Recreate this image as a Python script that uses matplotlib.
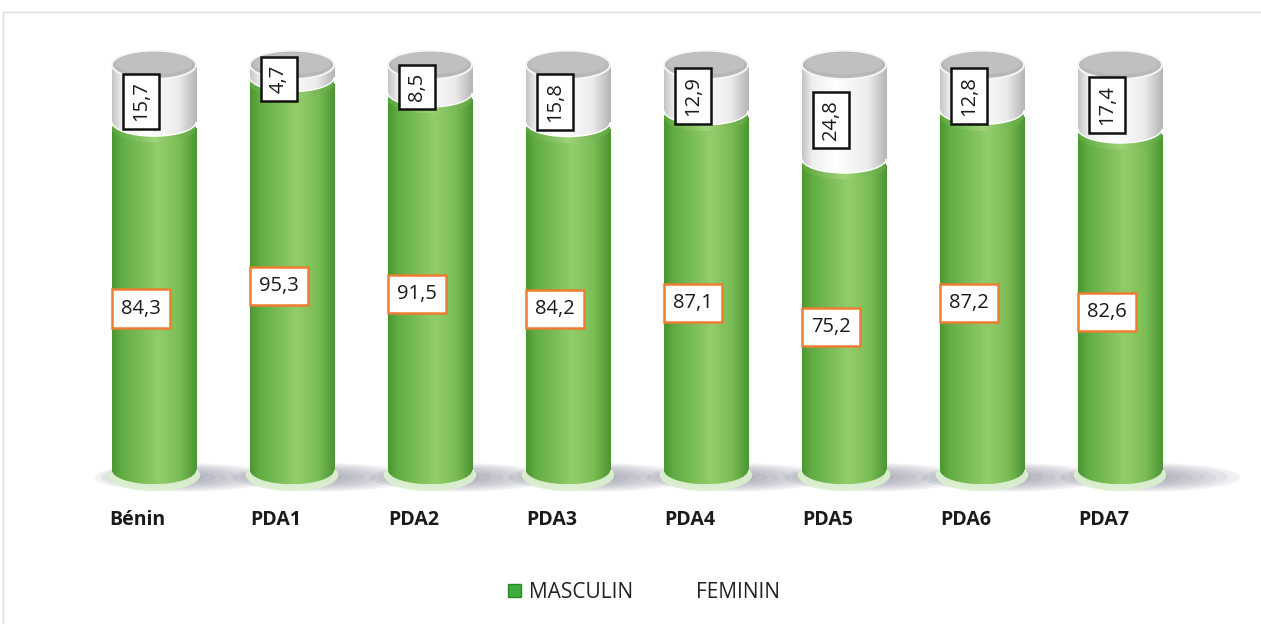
import numpy as np
import matplotlib
matplotlib.use("Agg")
import matplotlib.pyplot as plt
from matplotlib.patches import Ellipse, Arc, Patch
from matplotlib.colors import LinearSegmentedColormap

categories = ["Bénin", "PDA1", "PDA2", "PDA3", "PDA4", "PDA5", "PDA6", "PDA7"]
masculin = [84.3, 95.3, 91.5, 84.2, 87.1, 75.2, 87.2, 82.6]
feminin = [15.7, 4.7, 8.5, 15.8, 12.9, 24.8, 12.8, 17.4]

plt.rcParams['font.family'] = ['Open Sans', 'DejaVu Sans']

fig = plt.figure(figsize=(12.61, 6.24), dpi=100)
ax = fig.add_axes([0, 0, 1, 1])
ax.set_xlim(-154 / 138, (1261 - 154) / 138)
ax.set_ylim(-38.0, 116.0)
ax.axis('off')

green_cmap = LinearSegmentedColormap.from_list(
    "g", [(0, "#4a9632"), (0.12, "#62ad44"), (0.55, "#93cd6a"), (0.8, "#7bbd55"), (1, "#4b9433")])
greentop_cmap = LinearSegmentedColormap.from_list(
    "gt", [(0, "#5aa63d"), (0.5, "#9fd477"), (1, "#5ca53f")])
white_cmap = LinearSegmentedColormap.from_list(
    "w", [(0, "#c4c4c4"), (0.12, "#efefef"), (0.4, "#ffffff"), (0.78, "#ececec"), (1, "#b4b4b4")])
grad = np.linspace(0, 1, 256).reshape(1, -1)

W = 0.61
EH = 7.0

def grad_fill(patch, cmap, x0, x1, y0, y1, z):
    ax.add_patch(patch)
    im = ax.imshow(grad, cmap=cmap, extent=[x0, x1, y0, y1], aspect='auto',
                   zorder=z, interpolation='bicubic')
    im.set_clip_path(patch)

x = np.arange(len(categories))
for i, (m, f) in enumerate(zip(masculin, feminin)):
    xc = x[i]
    # shadow
    for k in range(8):
        s = 1 - k * 0.1
        ax.add_patch(Ellipse((xc + 0.22 - 0.02 * k, -1.8), 1.3 * s, 7.0 * s, color="#767690",
                             alpha=0.1, lw=0, zorder=1))
    ax.add_patch(Ellipse((xc, -1.2), W * 1.1, EH * 1.15, color="#dcf2cf", alpha=0.9, lw=0, zorder=1.5))
    # green body
    bars = ax.bar(xc, m, width=W, bottom=0, color="none", lw=0, zorder=2)
    for b in bars:
        grad_fill(b, green_cmap, xc - W / 2, xc + W / 2, 0, m, 2)
    e = Ellipse((xc, 0), W, EH, lw=0, fc="none")
    grad_fill(e, green_cmap, xc - W / 2, xc + W / 2, -EH / 2, EH / 2, 2)
    e = Ellipse((xc, m), W, EH, lw=0, fc="none")
    grad_fill(e, greentop_cmap, xc - W / 2, xc + W / 2, m - EH / 2, m + EH / 2, 2.1)
    # white cap
    gap = 1.6
    r = ax.bar(xc, 100 - (m + gap), width=W, bottom=m + gap, color="none", lw=0, zorder=3)
    for b in r:
        grad_fill(b, white_cmap, xc - W / 2, xc + W / 2, m + gap, 100, 3)
    e = Ellipse((xc, m + gap), W, EH, lw=0, fc="none")
    grad_fill(e, white_cmap, xc - W / 2, xc + W / 2, m + gap - EH / 2, m + gap + EH / 2, 3)
    ax.add_patch(Arc((xc, m + gap), W, EH, theta1=180, theta2=360, lw=1.0, ec="white", zorder=3.1))
    ax.add_patch(Ellipse((xc, 100), W, EH, lw=1.4, ec="#f6f6f6", fc="#b7b7b7", zorder=3.2))
    ax.add_patch(Ellipse((xc, 100.4), W * 0.92, EH * 0.78, lw=0, fc="#c0c0c0", zorder=3.3))
    # labels
    ax.text(xc - 0.095, m / 2 - 2.3, f"{m:.1f}".replace(".", ","), ha="center", va="center",
            fontsize=14.5, color="#1a1a1a", zorder=5,
            bbox=dict(boxstyle="square,pad=0.45", fc="white", ec="#ed7d31", lw=1.8))
    ax.text(xc - 0.095, m + f / 2 - 1.2, f"{f:.1f}".replace(".", ","), ha="center", va="center",
            rotation=90, fontsize=14.5, color="#1a1a1a", zorder=5,
            bbox=dict(boxstyle="square,pad=0.4", fc="white", ec="#111111", lw=1.8))
    ax.text(xc - 0.12, -12.4, categories[i], ha="center", va="center", fontsize=14,
            fontweight="bold", color="#1a1a1a")

# chart border
xl = 3 / 138 - 154 / 138
ax.plot([xl, xl], [-38, (470 - 12) / 4.05], color="#dcdcdc", lw=1)
ax.plot([xl, 8.1], [(470 - 12) / 4.05, (470 - 12) / 4.05], color="#dcdcdc", lw=1)

handles = [Patch(facecolor="#3cae3c", edgecolor="#2a8a2a"), Patch(facecolor="white", edgecolor="white")]
fig.legend(handles, ["MASCULIN", "FEMININ"], loc="center", bbox_to_anchor=(644 / 1261, 1 - 592 / 624),
           ncol=2, frameon=False, fontsize=15, handlelength=0.6, handleheight=0.6,
           handletextpad=0.4, columnspacing=2.0, labelcolor="#222222")

fig.savefig("out.png", dpi=100)
